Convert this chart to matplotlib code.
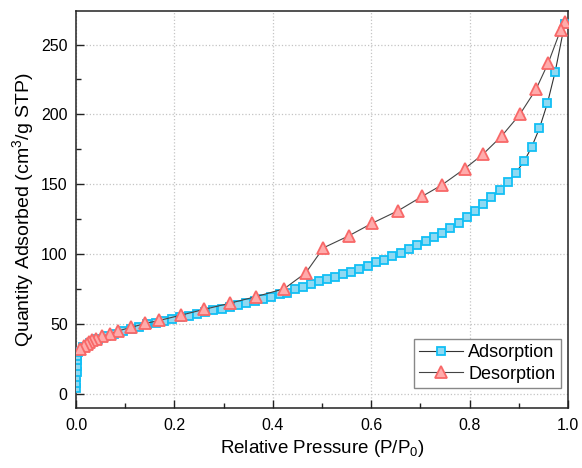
import matplotlib
matplotlib.use("Agg")
import matplotlib.pyplot as plt
from matplotlib.ticker import MultipleLocator

plt.rcParams['font.family'] = ['Liberation Sans', 'DejaVu Sans']
plt.rcParams['mathtext.fontset'] = 'custom'
plt.rcParams['mathtext.rm'] = 'Liberation Sans'

ads_x = [0.0003, 0.0005, 0.0008, 0.001, 0.0013, 0.0018, 0.0025, 0.005, 0.015, 0.028,
         0.045, 0.061, 0.078, 0.095, 0.111, 0.128, 0.145, 0.162, 0.178, 0.195,
         0.212, 0.229, 0.245, 0.262, 0.279, 0.296, 0.312, 0.329, 0.346, 0.363,
         0.380, 0.397, 0.414, 0.429, 0.446, 0.462, 0.478, 0.494, 0.511, 0.527,
         0.543, 0.559, 0.575, 0.593, 0.610, 0.626, 0.642, 0.660, 0.677, 0.694,
         0.711, 0.728, 0.744, 0.761, 0.778, 0.794, 0.811, 0.828, 0.844, 0.861,
         0.878, 0.894, 0.911, 0.926, 0.942, 0.958, 0.974, 0.993]
ads_y = [4, 8, 12, 16, 20, 24, 27, 30.0, 33.8, 36.6,
         39.3, 41.4, 43.1, 45.0, 46.6, 48.1, 49.8, 50.9, 52.1, 53.6,
         54.8, 55.9, 57.4, 58.6, 59.8, 60.9, 62.4, 63.8, 65.2, 66.6,
         68.1, 69.5, 71.2, 72.6, 74.8, 76.6, 78.4, 80.5, 82.1, 83.8,
         85.7, 87.6, 89.5, 91.6, 94.1, 96.2, 98.6, 101.2, 103.8, 106.9,
         109.5, 112.4, 115.5, 119.1, 122.6, 126.6, 130.9, 135.7, 140.7, 145.9,
         151.6, 158.4, 166.6, 176.6, 190.2, 207.9, 230.7, 264.5]

des_x = [0.993, 0.985, 0.960, 0.935, 0.902, 0.865, 0.827, 0.790, 0.743, 0.704,
         0.655, 0.602, 0.554, 0.503, 0.467, 0.423, 0.365, 0.312, 0.261, 0.213,
         0.169, 0.141, 0.111, 0.085, 0.069, 0.053, 0.041, 0.032, 0.027, 0.022,
         0.016, 0.008]
des_y = [266, 260.5, 237, 218, 200, 184.5, 171.5, 161.2, 149.4, 141.5,
         131.2, 122.2, 113.1, 104.6, 86.7, 75.3, 69.6, 64.9, 60.6, 56.4,
         52.6, 50.5, 47.6, 45.1, 43.1, 41.2, 39.6, 38.6, 37.4, 36.0,
         34.6, 32.0]

fig = plt.figure(figsize=(5.82, 4.68), dpi=100)
ax = fig.add_axes([0.1306, 0.1282, 0.8454, 0.8483])

ax.plot(ads_x, ads_y, '-', color='#333333', lw=0.8, marker='s', ms=5.5,
        mfc='#8fd9f2', mec='#12bff5', mew=1.3, label='Adsorption', zorder=3)
ax.plot(des_x, des_y, '-', color='#444444', lw=0.8, marker='^', ms=8,
        mfc='#ffabab', mec='#f86868', mew=1.3, label='Desorption', zorder=4)

ax.set_xlim(0, 1.0)
ax.set_ylim(-10, 274)
ax.xaxis.set_major_locator(MultipleLocator(0.2))
ax.xaxis.set_minor_locator(MultipleLocator(0.1))
ax.yaxis.set_major_locator(MultipleLocator(50))
ax.yaxis.set_minor_locator(MultipleLocator(25))
ax.xaxis.set_major_formatter(matplotlib.ticker.FormatStrFormatter('%.1f'))
ax.tick_params(which='both', direction='in', labelsize=11.5, width=1.0, color='#222222')
ax.tick_params(which='major', length=6)
ax.tick_params(which='minor', length=3.5)
ax.tick_params(axis='x', pad=7)
ax.tick_params(axis='y', pad=6)
for s in ax.spines.values():
    s.set_linewidth(1.1)
    s.set_color('#222222')

ax.grid(True, which='major', color='#c4c4c4', linestyle=':', linewidth=0.9)
ax.set_axisbelow(True)

ax.set_xlabel('Relative Pressure (P/P$_0$)', fontsize=13.5, labelpad=4)
ax.set_ylabel('Quantity Adsorbed (cm$^3$/g STP)', fontsize=14, labelpad=3)

leg = ax.legend(loc='lower right', bbox_to_anchor=(0.985, 0.05), fontsize=13,
                frameon=True, fancybox=False, edgecolor='#888888', framealpha=1,
                handlelength=2.4, handletextpad=0.3, borderpad=0.3, labelspacing=0.25,
                borderaxespad=0)
leg.get_frame().set_linewidth(1.0)

fig.savefig('out.png', dpi=100)
